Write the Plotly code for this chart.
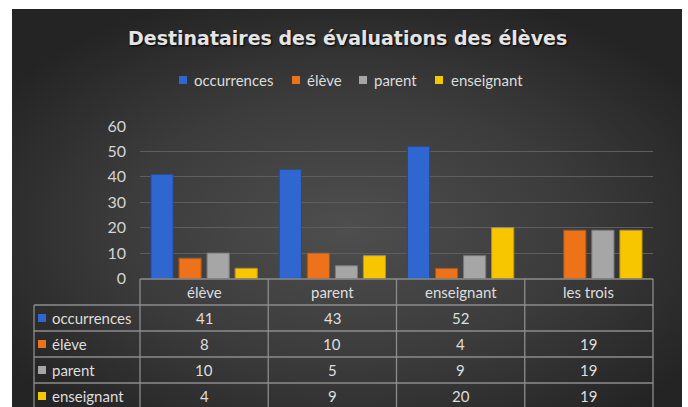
import base64
import plotly.graph_objects as go

# ---- data ----
categories = ["élève", "parent", "enseignant", "les trois"]
series_names = ["occurrences", "élève", "parent", "enseignant"]
occurrences = [41, 43, 52, None]
eleve = [8, 10, 4, 19]
parent = [10, 5, 9, 19]
enseignant = [4, 9, 20, 19]
y_ticks = [0, 10, 20, 30, 40, 50, 60]
title_text = "Destinataires des évaluations des élèves"

series_values = [occurrences, eleve, parent, enseignant]
colors = ["#2f66d0", "#ee7219", "#a6a6a6", "#f7c600"]
line_colors = ["#1d4aa0", "#b0520e", "#7a7a7a", "#c09400"]

W, H = 688, 407


def fx(px):
    return px / W


def fy(py):
    return 1 - py / H


# plot area in pixels
X0, X1 = 140, 653
Y_TOP, Y_BOT = 126, 278.5

fig = go.Figure()
for name, vals, c, lc in zip(series_names, series_values, colors, line_colors):
    fig.add_trace(go.Bar(
        x=categories, y=vals, name=name,
        marker=dict(color=c, line=dict(color=lc, width=1)),
        hoverinfo="x+y+name", showlegend=False,
    ))

# background gradient as svg image
svg = (
    '<svg xmlns="http://www.w3.org/2000/svg" width="670" height="398" viewBox="0 0 670 398" preserveAspectRatio="none">'
    '<defs><radialGradient id="g" cx="50%" cy="55%" r="62%">'
    '<stop offset="0" stop-color="#4e4e4e"/>'
    '<stop offset="0.55" stop-color="#3b3b3b"/>'
    '<stop offset="1" stop-color="#242424"/>'
    '</radialGradient></defs>'
    '<rect width="670" height="398" fill="url(#g)"/></svg>'
)
src = "data:image/svg+xml;base64," + base64.b64encode(svg.encode()).decode()

shapes = []
line_col = "#8c8c8c"
# table geometry
TBL_LEFT = 34
ROW_H = 26
HEADER_TOP = 279
rows_top = [HEADER_TOP + ROW_H * (i + 1) for i in range(len(series_names))]
col_edges = [X0 + (X1 - X0) * i / len(categories) for i in range(len(categories) + 1)]
TBL_BOTTOM = 412

shapes.append(dict(type="line", xref="paper", yref="paper",
                   x0=fx(X0), x1=fx(X1), y0=fy(HEADER_TOP), y1=fy(HEADER_TOP),
                   line=dict(color=line_col, width=1.3)))
for rt in rows_top:
    shapes.append(dict(type="line", xref="paper", yref="paper",
                       x0=fx(TBL_LEFT), x1=fx(X1), y0=fy(rt), y1=fy(rt),
                       line=dict(color=line_col, width=1.3)))
for ce in col_edges:
    shapes.append(dict(type="line", xref="paper", yref="paper",
                       x0=fx(ce), x1=fx(ce), y0=fy(HEADER_TOP), y1=fy(TBL_BOTTOM),
                       line=dict(color=line_col, width=1.3)))
shapes.append(dict(type="line", xref="paper", yref="paper",
                   x0=fx(TBL_LEFT), x1=fx(TBL_LEFT), y0=fy(rows_top[0]), y1=fy(TBL_BOTTOM),
                   line=dict(color=line_col, width=1.3)))

annotations = []
txt_col = "#dedede"
font_main = "Lato, 'Open Sans', sans-serif"
FS = 15
# title
annotations.append(dict(
    text=title_text, xref="paper", yref="paper", x=fx(347), y=fy(38),
    xanchor="center", yanchor="middle", showarrow=False,
    font=dict(family="'DejaVu Sans', sans-serif", size=19, color="#e4e4e4",
              weight="bold", shadow="1px 1px 2px #000000"),
))

# manual legend
legend_sq_x = [179, 292, 359, 435]
legend_tx_x = [192, 305, 372, 449]
LEG_Y = 80
for name, c, sx, tx in zip(series_names, colors, legend_sq_x, legend_tx_x):
    shapes.append(dict(type="rect", xref="paper", yref="paper",
                       x0=fx(sx), x1=fx(sx + 8), y0=fy(LEG_Y - 4), y1=fy(LEG_Y + 4),
                       fillcolor=c, line=dict(width=0)))
    annotations.append(dict(
        text=name, xref="paper", yref="paper", x=fx(tx), y=fy(LEG_Y),
        xanchor="left", yanchor="middle", showarrow=False,
        font=dict(family=font_main, size=FS, color="#dcdcdc")))

# header cells
for cat in categories:
    annotations.append(dict(
        text=cat, xref="x", yref="paper", x=cat, y=fy(HEADER_TOP + ROW_H / 2),
        xanchor="center", yanchor="middle", showarrow=False,
        font=dict(family=font_main, size=FS, color=txt_col)))
# rows
for r, (name, vals, c) in enumerate(zip(series_names, series_values, colors)):
    yc = rows_top[r] + ROW_H / 2
    annotations.append(dict(
        text=name, xref="paper", yref="paper", x=fx(50), y=fy(yc),
        xanchor="left", yanchor="middle", showarrow=False,
        font=dict(family=font_main, size=FS, color=txt_col)))
    shapes.append(dict(type="rect", xref="paper", yref="paper",
                       x0=fx(38), x1=fx(46), y0=fy(yc - 4), y1=fy(yc + 4),
                       fillcolor=c, line=dict(width=0)))
    for cat, v in zip(categories, vals):
        if v is None:
            continue
        annotations.append(dict(
            text=str(v), xref="x", yref="paper", x=cat, y=fy(yc),
            xanchor="center", yanchor="middle", showarrow=False,
            font=dict(family=font_main, size=FS, color=txt_col)))

fig.update_layout(
    template="none",
    width=W, height=H, autosize=False,
    margin=dict(l=0, r=0, t=0, b=0, pad=0, autoexpand=False),
    paper_bgcolor="#ffffff",
    plot_bgcolor="rgba(0,0,0,0)",
    barmode="group", bargap=0.125, bargroupgap=0.21,
    font=dict(family=font_main, size=FS, color=txt_col),
    images=[dict(source=src, xref="paper", yref="paper",
                 x=fx(12), y=fy(9), sizex=fx(682) - fx(12), sizey=fy(9) - fy(H),
                 xanchor="left", yanchor="top", sizing="stretch", layer="below")],
    xaxis=dict(domain=[fx(X0), fx(X1)], showticklabels=False, showgrid=False,
               zeroline=False, showline=False, ticks="", fixedrange=True,
               automargin=False),
    yaxis=dict(domain=[fy(Y_BOT), fy(Y_TOP)], range=[0, 60], tickvals=y_ticks,
               showgrid=True, gridcolor="#5e5e5e", gridwidth=1, zeroline=False,
               showline=False, ticks="", ticklabelstandoff=13, automargin=False,
               tickfont=dict(family=font_main, size=16, color="#d4d4d4"), fixedrange=True),
    showlegend=False,
    shapes=shapes,
    annotations=annotations,
)

fig.write_html("out.html", config={"displayModeBar": False},
               post_script="document.body.style.margin='0';")
